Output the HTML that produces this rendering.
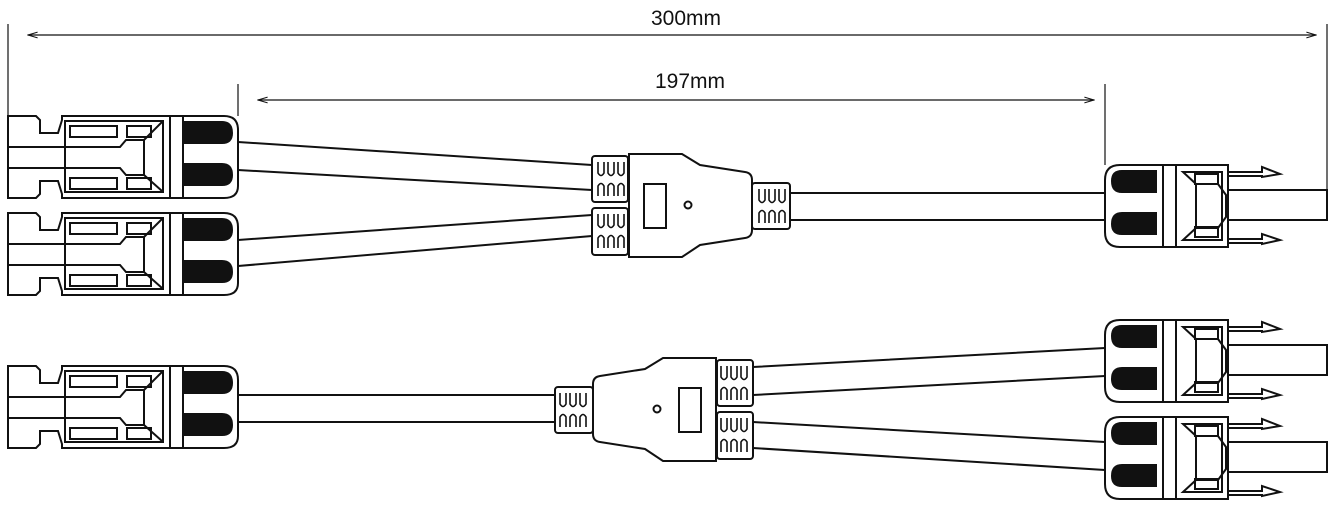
<!DOCTYPE html>
<html><head><meta charset="utf-8"><style>
html,body{margin:0;padding:0;background:#fff;}
svg{display:block}
text{font-family:"Liberation Sans",sans-serif;font-size:21px;fill:#111}
</style></head><body>
<svg width="1333" height="509" viewBox="0 0 1333 509" xmlns="http://www.w3.org/2000/svg">
<defs>
<marker id="ar" viewBox="0 0 10 10" refX="10" refY="5" markerWidth="10" markerHeight="8" orient="auto-start-reverse"><path d="M0,2 L10,5 L0,8" fill="none" stroke="#111" stroke-width="1"/></marker>
<g id="fem" fill="none" stroke="#111" stroke-width="2">
  <path d="M8,116 H36 L40,120 V133 H58 L62,120 V116 H170 V198 H62 V194 L58,181 H40 V194 L36,198 H8 Z" fill="#fff"/>
  <rect x="65" y="121" width="98" height="71"/>
  <rect x="70" y="126" width="47" height="11"/>
  <rect x="70" y="178" width="47" height="11"/>
  <rect x="127" y="126" width="24" height="11"/>
  <rect x="127" y="178" width="24" height="11"/>
  <path d="M8,147 H120 L126,140 H144 V175 H126 L120,168 H8"/>
  <path d="M144,140 L162,122 M144,175 L162,191 M151,133 L144,140"/>
  <rect x="170" y="116" width="13" height="82"/>
  <path d="M183,116 H224 Q238,116 238,130 V186 Q238,198 224,198 H183 Z"/>
  <path d="M184,122 H222 Q232,122 232,133 Q232,143 222,143 H184 Z" fill="#111"/>
  <path d="M184,164 H222 Q232,164 232,175 Q232,185 222,185 H184 Z" fill="#111"/>
</g>
<g id="male" fill="none" stroke="#111" stroke-width="2">
  <rect x="1228" y="190" width="99" height="30" fill="#fff"/>
  <path d="M1228,172 H1262 V167 L1280,174 L1262,177 V176 H1228"/>
  <path d="M1228,239 H1262 V234 L1280,240 L1262,244 V243 H1228"/>
  <path d="M1105,180 Q1105,165 1120,165 H1163 V247 H1120 Q1105,247 1105,232 Z" fill="#fff"/>
  <path d="M1156,171 H1122 Q1112,171 1112,181 Q1112,192 1122,192 H1156 Z" fill="#111"/>
  <path d="M1156,213 H1122 Q1112,213 1112,224 Q1112,234 1122,234 H1156 Z" fill="#111"/>
  <rect x="1163" y="165" width="13" height="82" fill="#fff"/>
  <rect x="1176" y="165" width="52" height="82" fill="#fff"/>
  <path d="M1183,172 H1222 V240 H1183 L1196,228 V184 Z"/>
  <rect x="1195" y="174" width="23" height="10"/>
  <rect x="1195" y="227" width="23" height="10"/>
  <path d="M1196,184 H1218 L1226,195 V217 L1218,228 H1196"/>
</g>
<g id="rib" fill="none" stroke="#111" stroke-width="1.6">
  <path d="M0,0 V11 Q3,16 6,11 V0 M10,0 V11 Q13,16 16,11 V0 M20,0 V11 Q23,16 26,11 V0"/>
  <path d="M0,34 V24 Q3,19 6,24 V34 M10,34 V24 Q13,19 16,24 V34 M20,34 V24 Q23,19 26,24 V34"/>
</g>
<g id="hub" fill="none" stroke="#111" stroke-width="2">
  <rect x="592" y="156" width="36" height="46" rx="3" fill="#fff"/>
  <use href="#rib" x="598" y="162"/>
  <rect x="592" y="208" width="36" height="47" rx="3" fill="#fff"/>
  <use href="#rib" x="598" y="214"/>
  <rect x="752" y="183" width="38" height="46" rx="3" fill="#fff"/>
  <use href="#rib" x="759" y="189"/>
  <path d="M629,154 H682 L700,165 L745,172 Q752,173 752,180 V230 Q752,237 745,238 L700,245 L682,257 H629 Z" fill="#fff"/>
  <rect x="644" y="184" width="22" height="44"/>
  <circle cx="688" cy="205" r="3.5"/>
</g>
</defs>

<g stroke="#111" stroke-width="1.2" fill="none">
  <line x1="8" y1="24" x2="8" y2="116"/>
  <line x1="1327" y1="24" x2="1327" y2="190"/>
  <line x1="28" y1="35" x2="1316" y2="35" marker-start="url(#ar)" marker-end="url(#ar)"/>
  <line x1="238" y1="84" x2="238" y2="116"/>
  <line x1="1105" y1="84" x2="1105" y2="165"/>
  <line x1="258" y1="100" x2="1094" y2="100" marker-start="url(#ar)" marker-end="url(#ar)"/>
</g>
<text x="686" y="25" text-anchor="middle">300mm</text>
<text x="690" y="88" text-anchor="middle">197mm</text>

<g stroke="#111" stroke-width="2" fill="none">
  <path d="M238,142 L592,165 M238,170 L592,190"/>
  <path d="M238,240 L592,215 M238,266 L592,236"/>
  <path d="M790,193 H1105 M790,220 H1105"/>
  <path d="M238,395 H555 M238,422 H555"/>
  <path d="M753,367 L1105,348 M753,395 L1105,376"/>
  <path d="M753,422 L1105,442 M753,448 L1105,470"/>
</g>

<use href="#fem"/>
<use href="#fem" y="97"/>
<use href="#fem" y="250"/>
<use href="#hub"/>
<use href="#hub" transform="translate(1345,204) scale(-1,1)"/>
<use href="#male"/>
<use href="#male" y="155"/>
<use href="#male" y="252"/>
</svg>
</body></html>
